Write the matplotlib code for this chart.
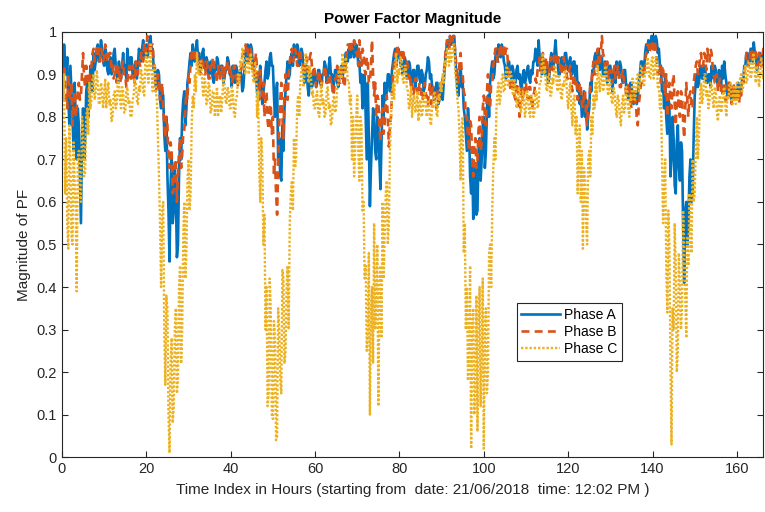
import numpy as np
import matplotlib
matplotlib.use('Agg')
import matplotlib.pyplot as plt
from matplotlib.ticker import FuncFormatter

# power factor readings, one every quarter hour
phase_a = [
    0.93,0.89, 0.97,0.92, 0.90,0.94, 0.85,0.78, 0.92,0.86, 0.80,0.72, 0.88,0.80, 0.70,0.82, 0.78,0.66, 0.55,0.74, 0.82,0.70, 0.75,0.86, 0.88,0.80, 0.84,0.92, 0.90,0.86, 0.95,0.91, 0.93,0.96, 0.97,0.93, 0.94,0.98, 0.96,0.93,
    0.92,0.96, 0.95,0.91, 0.90,0.93, 0.94,0.90, 0.91,0.95, 0.96,0.92, 0.90,0.88, 0.93,0.90, 0.89,0.92, 0.95,0.91, 0.92,0.89, 0.96,0.93, 0.91,0.94, 0.94,0.90, 0.90,0.92, 0.93,0.89, 0.92,0.96, 0.95,0.93, 0.96,0.98, 0.94,0.96,
    0.97,0.94, 0.95,0.98, 0.99,0.95, 0.96,0.91, 0.92,0.87, 0.88,0.91, 0.90,0.84, 0.82,0.86, 0.85,0.76, 0.72,0.80, 0.66,0.58, 0.46,0.64, 0.70,0.55, 0.58,0.68, 0.62,0.47, 0.50,0.66, 0.75,0.70, 0.80,0.84, 0.86,0.78, 0.82,0.88,
    0.90,0.93, 0.95,0.92, 0.97,0.94, 0.93,0.96, 0.98,0.94, 0.95,0.91, 0.92,0.95, 0.96,0.92, 0.91,0.94, 0.93,0.90, 0.90,0.93, 0.92,0.89, 0.88,0.92, 0.91,0.94, 0.93,0.90, 0.90,0.92, 0.92,0.88, 0.89,0.91, 0.91,0.94, 0.93,0.90,
    0.90,0.87, 0.92,0.89, 0.88,0.92, 0.91,0.88, 0.89,0.91, 0.90,0.86, 0.87,0.91, 0.95,0.93, 0.97,0.95, 0.94,0.97, 0.96,0.92, 0.93,0.89, 0.90,0.86, 0.85,0.89, 0.92,0.87, 0.83,0.86, 0.88,0.91, 0.93,0.89, 0.90,0.94, 0.95,0.92,
    0.92,0.85, 0.80,0.86, 0.88,0.70, 0.75,0.66, 0.65,0.78, 0.72,0.82, 0.86,0.90, 0.93,0.89, 0.90,0.94, 0.95,0.92, 0.97,0.94, 0.94,0.97, 0.96,0.92, 0.93,0.96, 0.95,0.91, 0.88,0.92, 0.92,0.87, 0.85,0.89, 0.90,0.87, 0.88,0.91,
    0.90,0.87, 0.88,0.91, 0.91,0.88, 0.87,0.90, 0.90,0.93, 0.92,0.88, 0.89,0.92, 0.94,0.90, 0.90,0.87, 0.88,0.91, 0.91,0.88, 0.87,0.90, 0.90,0.92, 0.89,0.91, 0.92,0.95, 0.95,0.93, 0.96,0.94, 0.94,0.97, 0.97,0.94, 0.95,0.97,
    0.96,0.92, 0.93,0.88, 0.90,0.82, 0.85,0.90, 0.80,0.70, 0.88,0.75, 0.59,0.68, 0.75,0.82, 0.80,0.72, 0.70,0.80, 0.78,0.70, 0.63,0.74, 0.85,0.80, 0.88,0.84, 0.86,0.90, 0.90,0.86, 0.87,0.91, 0.93,0.95, 0.96,0.93, 0.94,0.96,
    0.95,0.92, 0.93,0.90, 0.91,0.94, 0.93,0.89, 0.90,0.93, 0.92,0.88, 0.88,0.91, 0.91,0.87, 0.89,0.92, 0.92,0.89, 0.88,0.91, 0.90,0.86, 0.87,0.90, 0.91,0.94, 0.93,0.89, 0.90,0.87, 0.87,0.84, 0.85,0.88, 0.88,0.83, 0.84,0.87,
    0.86,0.84, 0.88,0.92, 0.95,0.97, 0.98,0.96, 0.99,0.97, 0.97,0.99, 0.99,0.94, 0.90,0.86, 0.85,0.90, 0.92,0.87, 0.88,0.82, 0.80,0.76, 0.72,0.82, 0.78,0.66, 0.62,0.70, 0.56,0.64, 0.68,0.57, 0.58,0.72, 0.75,0.65, 0.70,0.78,
    0.80,0.68, 0.72,0.82, 0.85,0.80, 0.88,0.91, 0.93,0.89, 0.90,0.94, 0.96,0.93, 0.97,0.95, 0.94,0.97, 0.96,0.93, 0.92,0.89, 0.90,0.93, 0.93,0.90, 0.89,0.92, 0.91,0.88, 0.88,0.91, 0.92,0.89, 0.90,0.87, 0.87,0.90, 0.91,0.88,
    0.89,0.91, 0.92,0.89, 0.88,0.91, 0.90,0.93, 0.93,0.96, 0.95,0.92, 0.98,0.94, 0.92,0.90, 0.94,0.91, 0.90,0.93, 0.92,0.88, 0.89,0.93, 0.95,0.92, 0.91,0.95, 0.98,0.94, 0.93,0.90, 0.90,0.93, 0.94,0.91, 0.92,0.95, 0.95,0.92,
    0.91,0.93, 0.94,0.90, 0.90,0.93, 0.93,0.89, 0.92,0.86, 0.88,0.83, 0.85,0.80, 0.83,0.86, 0.80,0.84, 0.77,0.80, 0.82,0.88, 0.86,0.91, 0.90,0.94, 0.95,0.92, 0.93,0.96, 0.91,0.93, 0.94,0.90, 0.90,0.93, 0.92,0.88, 0.89,0.92,
    0.92,0.89, 0.86,0.90, 0.91,0.88, 0.93,0.90, 0.90,0.93, 0.92,0.89, 0.88,0.91, 0.91,0.87, 0.87,0.84, 0.85,0.88, 0.88,0.85, 0.83,0.86, 0.86,0.83, 0.84,0.88, 0.90,0.93, 0.93,0.90, 0.91,0.95, 0.97,0.95, 0.98,0.96, 0.97,0.99,
    0.99,0.96, 0.97,0.99, 0.98,0.95, 0.96,0.92, 0.92,0.86, 0.88,0.82, 0.90,0.80, 0.76,0.84, 0.83,0.66, 0.70,0.80, 0.75,0.64, 0.62,0.74, 0.78,0.68, 0.65,0.74, 0.72,0.55, 0.41,0.58, 0.60,0.50, 0.55,0.66, 0.70,0.60, 0.62,0.75,
    0.85,0.88, 0.90,0.87, 0.88,0.91, 0.92,0.89, 0.89,0.92, 0.91,0.88, 0.88,0.90, 0.90,0.87, 0.92,0.90, 0.89,0.92, 0.91,0.88, 0.88,0.91, 0.90,0.87, 0.92,0.89, 0.93,0.90, 0.88,0.85, 0.86,0.88, 0.87,0.84, 0.85,0.87, 0.86,0.84,
    0.85,0.88, 0.87,0.85, 0.86,0.89, 0.88,0.92, 0.92,0.95, 0.95,0.92, 0.93,0.96, 0.96,0.93, 0.975,0.95, 0.94,0.91, 0.92,0.95, 0.95,0.92, 0.93,0.95, 0.94,
]

phase_b = [
    0.88,0.84, 0.92,0.88, 0.85,0.82, 0.90,0.86, 0.84,0.88, 0.78,0.83, 0.86,0.80, 0.82,0.86, 0.88,0.84, 0.85,0.90, 0.95,0.89, 0.87,0.92, 0.90,0.86, 0.88,0.91, 0.92,0.95, 0.96,0.93, 0.94,0.96, 0.97,0.94, 0.93,0.96, 0.95,0.93,
    0.94,0.97, 0.96,0.93, 0.93,0.95, 0.95,0.91, 0.92,0.89, 0.90,0.92, 0.88,0.91, 0.92,0.88, 0.89,0.92, 0.93,0.90, 0.90,0.87, 0.88,0.91, 0.92,0.89, 0.89,0.92, 0.91,0.88, 0.93,0.90, 0.90,0.93, 0.92,0.95, 0.95,0.93, 0.97,0.95,
    0.96,0.99, 0.98,0.95, 0.95,0.97, 0.97,0.93, 0.90,0.86, 0.87,0.90, 0.88,0.84, 0.85,0.88, 0.82,0.78, 0.75,0.80, 0.78,0.70, 0.68,0.74, 0.72,0.62, 0.63,0.70, 0.70,0.60, 0.66,0.72, 0.75,0.68, 0.71,0.76, 0.77,0.82, 0.86,0.84,
    0.90,0.88, 0.93,0.95, 0.96,0.93, 0.94,0.96, 0.95,0.92, 0.93,0.90, 0.91,0.94, 0.93,0.90, 0.90,0.93, 0.92,0.89, 0.89,0.92, 0.91,0.94, 0.93,0.90, 0.90,0.88, 0.92,0.90, 0.89,0.92, 0.91,0.89, 0.92,0.90, 0.90,0.93, 0.93,0.90,
    0.91,0.88, 0.89,0.92, 0.92,0.89, 0.90,0.87, 0.88,0.91, 0.91,0.94, 0.95,0.97, 0.97,0.95, 0.96,0.93, 0.94,0.96, 0.93,0.90, 0.90,0.93, 0.95,0.91, 0.88,0.84, 0.91,0.87, 0.85,0.88, 0.80,0.84, 0.86,0.79, 0.77,0.82, 0.83,0.76,
    0.80,0.66, 0.70,0.62, 0.57,0.68, 0.78,0.84, 0.88,0.80, 0.75,0.86, 0.90,0.86, 0.84,0.90, 0.93,0.95, 0.96,0.93, 0.94,0.96, 0.95,0.92, 0.92,0.95, 0.96,0.93, 0.93,0.90, 0.90,0.93, 0.94,0.91, 0.91,0.94, 0.95,0.92, 0.90,0.92,
    0.90,0.87, 0.88,0.90, 0.91,0.88, 0.87,0.89, 0.89,0.92, 0.91,0.88, 0.88,0.90, 0.90,0.87, 0.875,0.85, 0.86,0.89, 0.89,0.92, 0.91,0.88, 0.88,0.91, 0.90,0.88, 0.87,0.92, 0.95,0.97, 0.97,0.95, 0.98,0.96, 0.96,0.98, 0.97,0.95,
    0.95,0.92, 0.98,0.94, 0.92,0.96, 0.95,0.91, 0.90,0.94, 0.93,0.88, 0.88,0.92, 0.98,0.90, 0.85,0.88, 0.80,0.85, 0.84,0.78, 0.74,0.80, 0.82,0.76, 0.78,0.84, 0.85,0.80, 0.73,0.78, 0.80,0.86, 0.90,0.93, 0.95,0.92, 0.97,0.95,
    0.96,0.94, 0.93,0.96, 0.95,0.92, 0.91,0.93, 0.92,0.89, 0.90,0.87, 0.88,0.85, 0.86,0.89, 0.89,0.86, 0.85,0.88, 0.87,0.84, 0.84,0.87, 0.88,0.85, 0.85,0.83, 0.86,0.88, 0.83,0.86, 0.87,0.84, 0.84,0.82, 0.86,0.84, 0.85,0.88,
    0.87,0.89, 0.90,0.93, 0.96,0.98, 0.98,0.96, 0.99,0.97, 0.97,0.99, 0.98,0.95, 0.92,0.89, 0.88,0.93, 0.95,0.91, 0.90,0.86, 0.85,0.80, 0.80,0.75, 0.72,0.79, 0.78,0.70, 0.66,0.73, 0.75,0.68, 0.70,0.77, 0.80,0.72, 0.74,0.82,
    0.85,0.80, 0.78,0.86, 0.90,0.84, 0.82,0.88, 0.88,0.92, 0.94,0.96, 0.96,0.93, 0.93,0.96, 0.97,0.94, 0.95,0.97, 0.94,0.96, 0.96,0.92, 0.90,0.87, 0.86,0.89, 0.89,0.85, 0.84,0.87, 0.88,0.83, 0.80,0.85, 0.87,0.84, 0.85,0.88,
    0.88,0.85, 0.84,0.87, 0.87,0.84, 0.82,0.85, 0.86,0.89, 0.88,0.91, 0.92,0.94, 0.90,0.93, 0.95,0.92, 0.91,0.94, 0.93,0.90, 0.90,0.93, 0.94,0.91, 0.91,0.95, 0.95,0.92, 0.92,0.94, 0.93,0.90, 0.90,0.93, 0.94,0.91, 0.92,0.89,
    0.89,0.91, 0.92,0.88, 0.86,0.89, 0.90,0.87, 0.88,0.84, 0.85,0.88, 0.87,0.83, 0.82,0.86, 0.86,0.80, 0.78,0.83, 0.84,0.87, 0.88,0.91, 0.93,0.90, 0.90,0.94, 0.96,0.93, 0.92,0.95, 0.99,0.95, 0.94,0.92, 0.91,0.93, 0.89,0.91,
    0.91,0.89, 0.88,0.91, 0.92,0.89, 0.89,0.92, 0.90,0.87, 0.87,0.90, 0.91,0.88, 0.88,0.85, 0.85,0.88, 0.87,0.84, 0.82,0.86, 0.86,0.83, 0.84,0.80, 0.78,0.83, 0.85,0.88, 0.88,0.91, 0.90,0.93, 0.95,0.97, 0.97,0.95, 0.96,0.98,
    0.97,0.95, 0.98,0.96, 0.93,0.90, 0.90,0.92, 0.88,0.91, 0.92,0.87, 0.85,0.90, 0.80,0.85, 0.88,0.84, 0.82,0.88, 0.90,0.83, 0.78,0.84, 0.86,0.82, 0.80,0.86, 0.85,0.79, 0.75,0.82, 0.88,0.84, 0.80,0.85, 0.86,0.82, 0.82,0.88,
    0.90,0.92, 0.93,0.90, 0.91,0.94, 0.95,0.92, 0.92,0.95, 0.94,0.91, 0.96,0.94, 0.93,0.96, 0.95,0.92, 0.90,0.88, 0.88,0.90, 0.86,0.88, 0.89,0.86, 0.85,0.88, 0.87,0.84, 0.84,0.87, 0.88,0.85, 0.85,0.83, 0.86,0.88, 0.84,0.86,
    0.86,0.84, 0.83,0.86, 0.85,0.88, 0.88,0.91, 0.92,0.95, 0.94,0.92, 0.93,0.96, 0.96,0.93, 0.94,0.96, 0.95,0.92, 0.92,0.95, 0.94,0.92, 0.93,0.96, 0.95,
]

phase_c = [
    0.88,0.84, 0.90,0.62, 0.75,0.55, 0.49,0.78, 0.70,0.52, 0.50,0.74, 0.65,0.58, 0.39,0.70, 0.72,0.62, 0.60,0.80, 0.77,0.66, 0.67,0.80, 0.82,0.76, 0.88,0.82, 0.84,0.89, 0.90,0.84, 0.86,0.91, 0.88,0.83, 0.83,0.88, 0.87,0.82,
    0.85,0.89, 0.82,0.86, 0.88,0.83, 0.84,0.79, 0.80,0.85, 0.86,0.82, 0.83,0.89, 0.88,0.84, 0.82,0.87, 0.86,0.81, 0.81,0.86, 0.87,0.83, 0.84,0.80, 0.80,0.84, 0.85,0.89, 0.88,0.84, 0.83,0.87, 0.86,0.91, 0.90,0.86, 0.85,0.93,
    0.95,0.90, 0.88,0.94, 0.97,0.90, 0.86,0.91, 0.92,0.86, 0.84,0.75, 0.66,0.55, 0.40,0.58, 0.60,0.30, 0.17,0.38, 0.35,0.10, 0.01,0.22, 0.28,0.08, 0.12,0.30, 0.35,0.15, 0.18,0.40, 0.45,0.22, 0.30,0.52, 0.60,0.42, 0.48,0.65,
    0.70,0.58, 0.62,0.78, 0.85,0.82, 0.90,0.86, 0.95,0.91, 0.90,0.93, 0.93,0.88, 0.85,0.89, 0.88,0.83, 0.84,0.88, 0.87,0.81, 0.82,0.86, 0.86,0.80, 0.83,0.87, 0.80,0.84, 0.85,0.81, 0.84,0.89, 0.88,0.84, 0.83,0.87, 0.86,0.82,
    0.82,0.87, 0.86,0.81, 0.80,0.84, 0.85,0.90, 0.88,0.93, 0.92,0.96, 0.95,0.91, 0.90,0.94, 0.94,0.90, 0.91,0.95, 0.93,0.89, 0.88,0.93, 0.92,0.80, 0.86,0.68, 0.60,0.75, 0.70,0.50, 0.57,0.30, 0.40,0.12, 0.15,0.42, 0.35,0.10,
    0.09,0.32, 0.28,0.04, 0.05,0.35, 0.30,0.18, 0.15,0.44, 0.42,0.22, 0.25,0.40, 0.45,0.30, 0.55,0.62, 0.65,0.58, 0.75,0.68, 0.70,0.82, 0.85,0.80, 0.88,0.91, 0.92,0.87, 0.90,0.95, 0.94,0.90, 0.88,0.92, 0.90,0.85, 0.86,0.82,
    0.82,0.85, 0.86,0.81, 0.80,0.84, 0.88,0.83, 0.84,0.80, 0.81,0.86, 0.87,0.82, 0.83,0.78, 0.79,0.84, 0.85,0.81, 0.82,0.87, 0.88,0.91, 0.92,0.89, 0.95,0.92, 0.90,0.94, 0.93,0.88, 0.88,0.83, 0.85,0.70, 0.80,0.66, 0.72,0.80,
    0.85,0.72, 0.65,0.80, 0.78,0.58, 0.60,0.42, 0.45,0.25, 0.30,0.48, 0.10,0.35, 0.40,0.22, 0.55,0.30, 0.35,0.50, 0.12,0.38, 0.45,0.28, 0.60,0.42, 0.52,0.62, 0.65,0.50, 0.55,0.72, 0.80,0.85, 0.88,0.84, 0.92,0.95, 0.88,0.91,
    0.90,0.94, 0.93,0.89, 0.88,0.92, 0.92,0.87, 0.86,0.82, 0.83,0.87, 0.80,0.84, 0.85,0.81, 0.82,0.86, 0.79,0.83, 0.84,0.80, 0.81,0.85, 0.86,0.82, 0.80,0.84, 0.83,0.79, 0.78,0.83, 0.82,0.86, 0.85,0.81, 0.80,0.85, 0.84,0.88,
    0.86,0.90, 0.88,0.93, 0.92,0.96, 0.95,0.92, 0.96,0.93, 0.95,0.97, 0.97,0.90, 0.88,0.84, 0.82,0.75, 0.65,0.78, 0.80,0.48, 0.55,0.30, 0.40,0.18, 0.25,0.45, 0.02,0.30, 0.35,0.10, 0.15,0.38, 0.06,0.28, 0.40,0.12, 0.25,0.42,
    0.02,0.30, 0.35,0.15, 0.20,0.48, 0.50,0.40, 0.58,0.68, 0.75,0.70, 0.82,0.86, 0.88,0.83, 0.85,0.89, 0.90,0.86, 0.86,0.91, 0.92,0.87, 0.88,0.91, 0.90,0.86, 0.85,0.89, 0.87,0.82, 0.83,0.87, 0.86,0.81, 0.82,0.86, 0.85,0.80,
    0.82,0.86, 0.85,0.81, 0.80,0.85, 0.84,0.80, 0.81,0.86, 0.86,0.82, 0.83,0.88, 0.88,0.93, 0.95,0.90, 0.92,0.87, 0.86,0.90, 0.90,0.85, 0.85,0.89, 0.88,0.92, 0.92,0.88, 0.86,0.90, 0.89,0.85, 0.84,0.88, 0.87,0.91, 0.90,0.85,
    0.82,0.86, 0.88,0.82, 0.78,0.84, 0.85,0.76, 0.80,0.62, 0.70,0.78, 0.60,0.72, 0.49,0.68, 0.65,0.55, 0.50,0.70, 0.72,0.66, 0.80,0.76, 0.85,0.82, 0.88,0.84, 0.92,0.89, 0.86,0.90, 0.90,0.86, 0.87,0.92, 0.91,0.87, 0.85,0.89,
    0.88,0.84, 0.83,0.87, 0.86,0.82, 0.80,0.85, 0.84,0.80, 0.78,0.83, 0.85,0.81, 0.82,0.87, 0.86,0.82, 0.80,0.85, 0.84,0.89, 0.88,0.84, 0.85,0.89, 0.90,0.86, 0.88,0.92, 0.92,0.88, 0.87,0.91, 0.90,0.94, 0.93,0.89, 0.89,0.93,
    0.94,0.89, 0.90,0.94, 0.93,0.87, 0.88,0.82, 0.85,0.70, 0.55,0.65, 0.70,0.45, 0.34,0.58, 0.50,0.22, 0.03,0.35, 0.30,0.55, 0.45,0.20, 0.25,0.48, 0.40,0.30, 0.35,0.58, 0.50,0.38, 0.28,0.52, 0.45,0.62, 0.55,0.48, 0.70,0.60,
    0.62,0.72, 0.80,0.70, 0.75,0.85, 0.88,0.83, 0.85,0.90, 0.90,0.85, 0.86,0.82, 0.84,0.88, 0.88,0.84, 0.82,0.87, 0.86,0.81, 0.79,0.84, 0.85,0.81, 0.82,0.86, 0.87,0.83, 0.80,0.85, 0.84,0.88, 0.88,0.84, 0.83,0.87, 0.86,0.83,
    0.88,0.84, 0.85,0.89, 0.90,0.86, 0.87,0.91, 0.92,0.88, 0.89,0.93, 0.93,0.89, 0.90,0.94, 0.95,0.90, 0.88,0.92, 0.91,0.87, 0.90,0.94, 0.93,0.89, 0.92,
]

step = 0.25  # hours between readings

plt.rcParams['font.family'] = ['Liberation Sans', 'DejaVu Sans']

fig = plt.figure(figsize=(7.65, 5.12), dpi=100)
ax = fig.add_axes([0.081, 0.107, 0.917, 0.831])

ax.plot(np.arange(len(phase_a)) * step, phase_a, color='#0072BD', lw=1.9, label='Phase A')
ax.plot(np.arange(len(phase_b)) * step, phase_b, color='#D95319', lw=1.9, ls=(0, (3, 2)), label='Phase B')
ax.plot(np.arange(len(phase_c)) * step, phase_c, color='#EDB120', lw=1.7, ls=(0, (1, 0.8)), label='Phase C')

ax.set_xlim(0, 166.3)
ax.set_ylim(0, 1)
ax.set_xticks(np.arange(0, 161, 20))
ax.set_yticks(np.arange(0, 1.01, 0.1))
ax.yaxis.set_major_formatter(FuncFormatter(lambda v, p: '%g' % round(v, 1)))
ax.tick_params(direction='in', top=True, right=True, length=4, width=0.8,
               labelsize=10.5, colors='#262626')
for s in ax.spines.values():
    s.set_color('#262626')
    s.set_linewidth(0.8)

ax.set_title('Power Factor Magnitude', fontsize=11, fontweight='bold', pad=6)
ax.set_xlabel('Time Index in Hours (starting from  date: 21/06/2018  time: 12:02 PM )',
              fontsize=11, color='#262626', labelpad=5)
ax.set_ylabel('Magnitude of PF', fontsize=11, color='#262626', labelpad=4)

leg = ax.legend(loc='upper left', bbox_to_anchor=(0.648, 0.362), fontsize=10,
                fancybox=False, framealpha=1, edgecolor='#262626',
                handlelength=2.8, borderpad=0.35, labelspacing=0.22, handletextpad=0.25,
                borderaxespad=0)
leg.get_frame().set_linewidth(0.8)

fig.savefig('out.png', dpi=100)
